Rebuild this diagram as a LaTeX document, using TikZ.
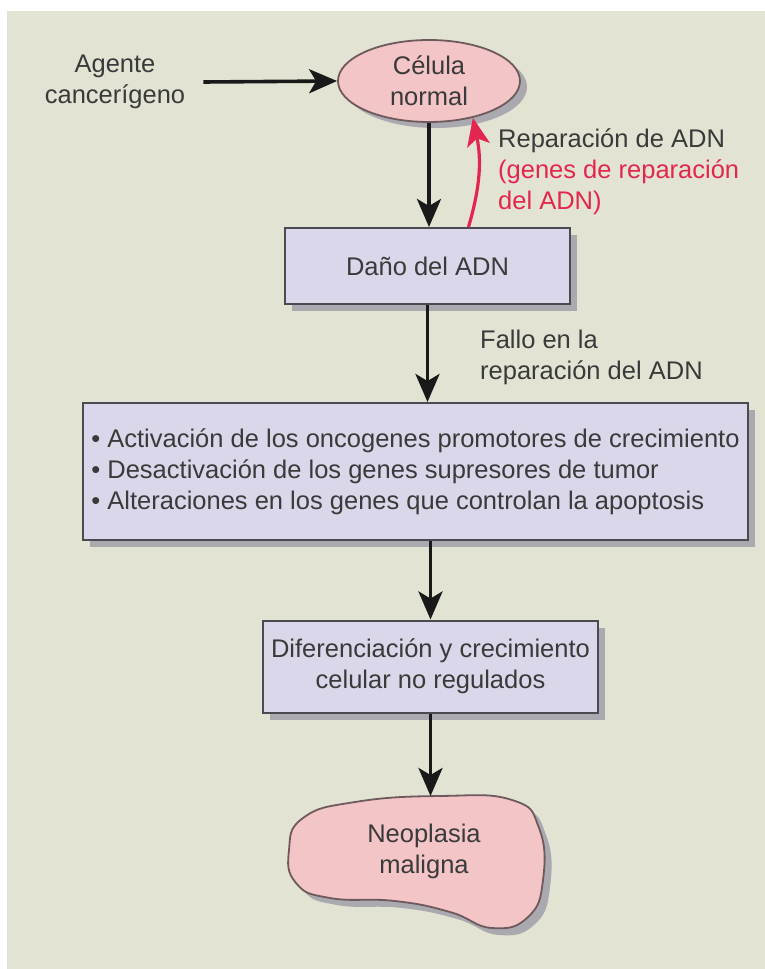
\documentclass[tikz,border=0pt]{standalone}
\usepackage{fontspec}
\setmainfont{Liberation Sans}
\usepackage{xcolor}
\usepackage{tikz}
\usetikzlibrary{positioning,arrows.meta,shapes.geometric,calc,shadows}
\definecolor{paper}{HTML}{E3E3D3}
\definecolor{boxfill}{HTML}{D9D7E9}
\definecolor{boxline}{HTML}{4A4A52}
\definecolor{cellfill}{HTML}{F3C5C7}
\definecolor{cellline}{HTML}{6E5A5C}
\definecolor{shadowgray}{HTML}{A9A9AF}
\definecolor{textgray}{HTML}{3A3A3A}
\definecolor{repred}{HTML}{E3264F}
\newcommand{\diagfont}{\fontsize{25.5}{31}\selectfont}
\newcommand{\neoblob}{plot[smooth cycle, tension=0.8] coordinates {
    (303,818) (355,802) (440,796) (512,800) (539,828) (543,880) (528,917)
    (492,928) (450,912) (395,901) (330,898) (296,883) (289,850)}}
\tikzset{
    flowbox/.style={
        draw=boxline, fill=boxfill, line width=2pt,
        font=\diagfont, text=textgray, align=center,
        drop shadow={shadow xshift=7pt, shadow yshift=-7pt, fill=shadowgray, opacity=1}
    },
    cellshape/.style={
        draw=cellline, fill=cellfill, ellipse, line width=1.8pt, inner sep=0pt,
        minimum width=182pt, minimum height=82pt,
        font=\diagfont, text=textgray, align=center,
        drop shadow={shadow xshift=7pt, shadow yshift=-6pt, fill=shadowgray, opacity=1}
    },
    label/.style={font=\diagfont, text=textgray, align=left, anchor=west, inner sep=0pt},
    arrow/.style={-{Stealth[length=28pt, width=24pt, inset=7pt]}, line width=3.6pt, color=black!90},
    reparrow/.style={-{Stealth[length=28pt, width=23pt, inset=7pt]}, line width=3.2pt, color=repred},
}
\begin{document}
\begin{tikzpicture}[x=1pt, y=-1pt]
    % background
    \useasboundingbox (0,0) rectangle (765,969);
    \fill[white] (0,0) rectangle (765,969);
    \fill[paper] (7,11) rectangle (765,969);
    % nodes
    \node[label, anchor=center, align=center] (agent) at (115,82) {Agente\\cancerígeno};
    \node[cellshape] (cell) at (429,81) {Célula\\normal};
    \node[flowbox, minimum width=285pt, minimum height=76pt] (damage) at (427.5,266) {Daño del ADN};
    \node[flowbox, align=left, minimum width=665pt, minimum height=137pt] (changes) at (415.5,471.5)
        {• Activación de los oncogenes promotores de crecimiento\\
         • Desactivación de los genes supresores de tumor\\
         • Alteraciones en los genes que controlan la apoptosis};
    \node[flowbox, minimum width=335pt, minimum height=92pt] (growth) at (430.5,666.5)
        {Diferenciación y crecimiento\\celular no regulados};
    % malignant blob
    \fill[shadowgray, shift={(7,7)}] \neoblob;
    \draw[cellline, fill=cellfill, line width=1.8pt] \neoblob;
    \coordinate (blobtop) at (430,796);
    \node[font=\diagfont, text=textgray, align=center] (neoplasia) at (424,851) {Neoplasia\\maligna};
    % labels
    \node[label] (repair) at (498,172) {Reparación de ADN\\
        \textcolor{repred}{(genes de reparación}\\\textcolor{repred}{del ADN)}};
    \node[label] (failure) at (480,357) {Fallo en la\\reparación del ADN};
    % connectors
    \draw[arrow] ([xshift=18pt]agent.east) -- (cell.west);
    \draw[arrow] (cell.south) -- (cell.south |- damage.north);
    \draw[reparrow] ([xshift=41pt]damage.north) to[bend right=14] (cell.-40);
    \draw[arrow] (damage.south) -- (damage.south |- changes.north);
    \draw[arrow] (growth.north |- changes.south) -- (growth.north);
    \draw[arrow] (growth.south) -- (growth.south |- blobtop);
\end{tikzpicture}
\end{document}
